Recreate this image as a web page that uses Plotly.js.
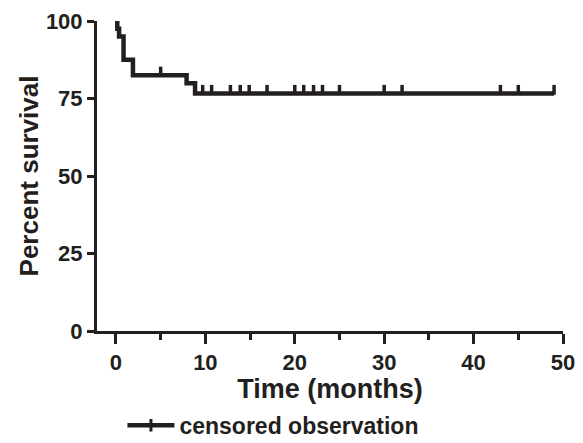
<!DOCTYPE html>
<html>
<head>
<meta charset="utf-8">
<script src="https://cdn.plot.ly/plotly-3.0.1.min.js"></script>
<style>html,body{margin:0;padding:0;background:#fff;}#chart{width:583px;height:443px;}</style>
</head>
<body>
<div id="chart"></div>
<script>
// Kaplan-Meier step data (months, percent survival)
var stepTimes = [0, 0.15, 0.35, 0.85, 1.9, 7.9, 8.85, 49];
var stepSurvival = [100, 97.5, 95, 87.5, 82.5, 79.9, 76.6, 76.6];
// censored observation times (months)
var censorTimes = [0.1, 5, 9.7, 10.7, 12.8, 13.9, 14.9, 16.9, 20, 21, 22.1, 23.1, 25, 30, 32, 43, 45, 49];
var xTicks = [0, 10, 20, 30, 40, 50];
var yTicks = [0, 25, 50, 75, 100];
var legendName = 'censored observation';

var ink = '#231f20';
var FONT = 'Arial, "Liberation Sans", sans-serif';

function survivalAt(t) {
  var s = stepSurvival[0];
  for (var i = 0; i < stepTimes.length; i++) {
    if (stepTimes[i] <= t) s = stepSurvival[i];
  }
  return s;
}
var tickLift = 1.2; // marks sit on top of the curve
var censorY = censorTimes.map(function (t) { return survivalAt(t) + tickLift; });

var traces = [
  {
    x: stepTimes, y: stepSurvival, type: 'scatter', mode: 'lines',
    line: {shape: 'hv', color: ink, width: 4.5},
    showlegend: false, hoverinfo: 'skip'
  },
  {
    x: censorTimes, y: censorY, type: 'scatter', mode: 'markers',
    marker: {symbol: 'line-ns', size: 7, line: {color: ink, width: 3.5}},
    cliponaxis: false, showlegend: false, hoverinfo: 'skip'
  },
  {
    x: [null], y: [null], type: 'scatter', mode: 'lines+markers',
    name: legendName,
    line: {color: ink, width: 4.5},
    marker: {symbol: 'line-ns', size: 9, line: {color: ink, width: 3}},
    showlegend: true
  }
];

var layout = {
  width: 583, height: 443,
  margin: {l: 97, r: 20, t: 21, b: 112},
  paper_bgcolor: '#fff', plot_bgcolor: '#fff',
  font: {family: FONT, color: ink},
  xaxis: {
    automargin: false,
    range: [-2.12, 50], tickvals: xTicks, ticktext: xTicks.map(String),
    ticks: 'outside', ticklen: 10, tickwidth: 3, tickcolor: ink,
    minor: {dtick: 5, tick0: 0, ticks: 'outside', ticklen: 6, tickwidth: 3, tickcolor: ink, showgrid: false},
    showline: true, linewidth: 3, linecolor: ink,
    showgrid: false, zeroline: false,
    tickfont: {family: FONT, size: 22, weight: 'bold', color: ink},
    title: {text: 'Time (months)', font: {family: FONT, size: 27, weight: 'bold', color: ink}, standoff: 7}
  },
  yaxis: {
    automargin: false,
    range: [0, 100], tickvals: yTicks, ticktext: yTicks.map(String),
    ticks: 'outside', ticklen: 7, tickwidth: 3, tickcolor: ink,
    showline: true, linewidth: 3, linecolor: ink,
    showgrid: false, zeroline: false,
    tickfont: {family: FONT, size: 22, weight: 'bold', color: ink},
    title: {text: 'Percent survival', font: {family: FONT, size: 26, weight: 'bold', color: ink}, standoff: 0}
  },
  showlegend: true,
  legend: {
    orientation: 'h', xref: 'container', yref: 'container',
    x: 0.21, xanchor: 'left', y: 0.04, yanchor: 'middle',
    font: {family: FONT, size: 23, weight: 'bold', color: ink},
    bgcolor: 'rgba(0,0,0,0)', itemwidth: 47
  }
};

Plotly.newPlot('chart', traces, layout, {displayModeBar: false, staticPlot: true});
</script>
</body>
</html>
